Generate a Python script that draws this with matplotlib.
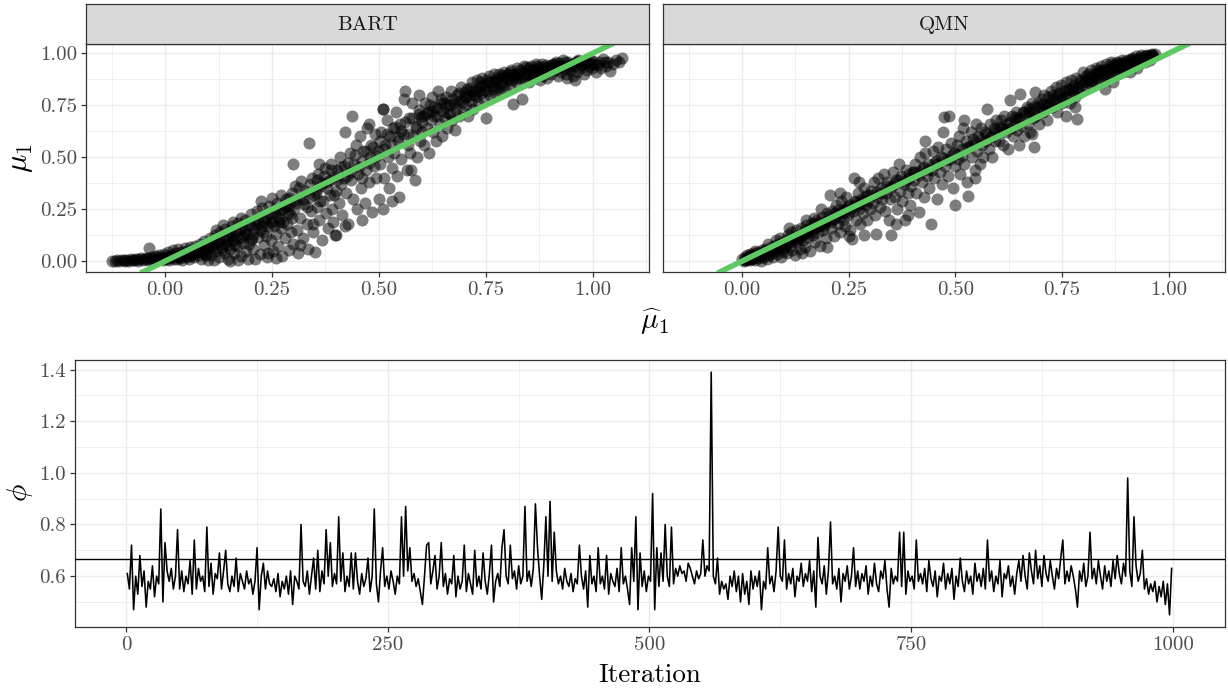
import matplotlib
matplotlib.use("Agg")
import matplotlib.pyplot as plt
import numpy as np

plt.rcParams['font.family'] = 'cmr10'
plt.rcParams['mathtext.fontset'] = 'cm'
plt.rcParams['axes.formatter.use_mathtext'] = True

# ---------------- data ----------------
panels = ["BART", "QMN"]

bart_pts = [
    (-0.125,0.003),(-0.118,0.002),(-0.112,0.005),(-0.108,0.001),(-0.101,0.004),(-0.097,0.008),(-0.093,0.002),(-0.089,0.006),
    (-0.084,0.003),(-0.080,0.010),(-0.076,0.004),(-0.072,0.007),(-0.068,0.012),(-0.064,0.003),(-0.060,0.009),(-0.056,0.014),
    (-0.052,0.006),(-0.048,0.011),(-0.044,0.017),(-0.041,0.004),(-0.037,0.013),(-0.034,0.020),(-0.030,0.008),(-0.027,0.016),
    (-0.024,0.025),(-0.037,0.062),
    (-0.020,0.005),(-0.017,0.018),(-0.014,0.030),(-0.011,0.010),(-0.008,0.022),(-0.005,0.004),(-0.002,0.035),(0.001,0.015),
    (0.004,0.026),(0.007,0.045),(0.010,0.008),(0.013,0.032),(0.016,0.020),(0.019,0.052),(0.022,0.012),(0.025,0.038),
    (0.028,0.027),(0.031,0.058),(0.034,0.016),(0.037,0.044),(0.040,0.005),(0.043,0.034),(0.046,0.062),(0.049,0.022),
    (0.052,0.048),(0.055,0.010),(0.058,0.070),(0.061,0.036),(0.064,0.055),(0.067,0.018),(0.070,0.075),(0.073,0.042),
    (0.076,0.060),(0.079,0.028),(0.082,0.085),(0.085,0.012),(0.088,0.050),(0.091,0.095),(0.094,0.035),(0.097,0.068),
    (0.100,0.004),
    (0.102,0.060),(0.105,0.110),(0.108,0.030),(0.111,0.082),(0.114,0.005),(0.117,0.125),(0.120,0.050),(0.123,0.095),
    (0.126,0.018),(0.129,0.140),(0.132,0.068),(0.135,0.108),(0.138,0.038),(0.141,0.155),(0.144,0.080),(0.147,0.012),
    (0.150,0.122),(0.153,0.060),(0.156,0.170),(0.159,0.095),(0.162,0.040),(0.165,0.140),(0.168,0.075),(0.171,0.185),
    (0.174,0.110),(0.177,0.025),(0.180,0.158),(0.183,0.088),(0.186,0.200),(0.189,0.050),(0.192,0.130),(0.195,0.012),
    (0.198,0.175),(0.200,0.100),(0.178,0.210),(0.160,0.190),(0.118,0.150),(0.135,0.172),(0.152,0.000),(0.170,0.005),
    (0.202,0.225),(0.205,0.060),(0.208,0.160),(0.211,0.010),(0.214,0.240),(0.217,0.115),(0.220,0.185),(0.223,0.035),
    (0.226,0.255),(0.229,0.140),(0.232,0.080),(0.235,0.210),(0.238,0.020),(0.241,0.170),(0.244,0.265),(0.247,0.100),
    (0.250,0.195),(0.253,0.050),(0.256,0.235),(0.259,0.130),(0.262,0.280),(0.265,0.075),(0.268,0.205),(0.271,0.160),
    (0.274,0.025),(0.277,0.250),(0.280,0.110),(0.283,0.300),(0.286,0.180),(0.289,0.055),(0.292,0.225),(0.295,0.140),
    (0.298,0.330),(0.300,0.085),(0.250,0.305),(0.270,0.320),(0.225,0.290),(0.260,0.015),(0.240,0.040),(0.290,0.270),
    (0.302,0.250),(0.305,0.360),(0.308,0.150),(0.311,0.040),(0.313,0.300),(0.316,0.210),(0.319,0.385),(0.322,0.110),
    (0.325,0.275),(0.328,0.340),(0.331,0.180),(0.334,0.060),(0.336,0.567),(0.338,0.310),(0.341,0.240),(0.344,0.400),
    (0.347,0.140),(0.350,0.045),(0.352,0.330),(0.355,0.260),(0.358,0.420),(0.361,0.200),(0.364,0.360),(0.367,0.100),
    (0.370,0.290),(0.373,0.450),(0.376,0.230),(0.379,0.380),(0.382,0.160),(0.385,0.320),(0.388,0.470),(0.391,0.250),
    (0.394,0.410),(0.397,0.125),(0.400,0.340),(0.300,0.470),(0.315,0.080),(0.345,0.180),(0.392,0.190),(0.360,0.470),
    (0.403,0.440),(0.406,0.280),(0.409,0.500),(0.412,0.370),(0.415,0.220),(0.418,0.460),(0.420,0.620),(0.423,0.330),
    (0.426,0.410),(0.429,0.180),(0.432,0.520),(0.435,0.390),(0.437,0.700),(0.440,0.300),(0.443,0.470),(0.446,0.560),
    (0.449,0.250),(0.452,0.420),(0.455,0.600),(0.458,0.350),(0.461,0.480),(0.464,0.530),(0.467,0.280),(0.470,0.440),
    (0.473,0.640),(0.476,0.380),(0.479,0.500),(0.482,0.560),(0.485,0.237),(0.488,0.460),(0.491,0.610),(0.494,0.400),
    (0.497,0.530),(0.500,0.300),(0.420,0.170),(0.400,0.125),(0.460,0.200),(0.478,0.660),(0.510,0.730),
    (0.503,0.470),(0.506,0.620),(0.509,0.730),(0.512,0.400),(0.515,0.560),(0.518,0.680),(0.521,0.500),(0.524,0.350),
    (0.527,0.600),(0.530,0.450),(0.533,0.640),(0.536,0.520),(0.539,0.720),(0.542,0.410),(0.545,0.580),(0.547,0.310),
    (0.550,0.660),(0.553,0.490),(0.556,0.610),(0.559,0.780),(0.562,0.820),(0.565,0.440),(0.568,0.560),(0.571,0.690),
    (0.574,0.520),(0.577,0.760),(0.580,0.600),(0.584,0.390),(0.587,0.650),(0.590,0.500),(0.593,0.710),(0.596,0.580),
    (0.600,0.620),(0.510,0.250),(0.530,0.290),(0.575,0.440),(0.595,0.800),
    (0.603,0.700),(0.606,0.560),(0.609,0.760),(0.612,0.640),(0.615,0.720),(0.618,0.520),(0.621,0.680),(0.624,0.790),
    (0.627,0.620),(0.630,0.740),(0.633,0.580),(0.636,0.700),(0.639,0.820),(0.642,0.660),(0.645,0.760),(0.648,0.600),
    (0.651,0.720),(0.654,0.690),(0.657,0.790),(0.660,0.640),(0.663,0.750),(0.666,0.710),(0.669,0.820),(0.672,0.680),
    (0.675,0.760),(0.678,0.630),(0.681,0.730),(0.684,0.800),(0.687,0.700),(0.690,0.770),(0.693,0.840),(0.696,0.720),
    (0.700,0.790),
    (0.703,0.750),(0.706,0.830),(0.709,0.700),(0.712,0.800),(0.715,0.770),(0.718,0.860),(0.721,0.730),(0.724,0.820),
    (0.727,0.790),(0.730,0.870),(0.733,0.760),(0.736,0.840),(0.739,0.810),(0.742,0.880),(0.745,0.780),(0.748,0.850),
    (0.751,0.687),(0.754,0.820),(0.757,0.890),(0.760,0.800),(0.763,0.860),(0.766,0.830),(0.769,0.900),(0.772,0.810),
    (0.775,0.870),(0.778,0.840),(0.781,0.900),(0.784,0.820),(0.787,0.880),(0.790,0.850),(0.793,0.910),(0.796,0.830),
    (0.800,0.880),
    (0.803,0.900),(0.806,0.850),(0.809,0.920),(0.812,0.870),(0.815,0.758),(0.818,0.900),(0.821,0.860),(0.824,0.930),
    (0.827,0.880),(0.830,0.910),(0.834,0.780),(0.837,0.890),(0.840,0.940),(0.843,0.870),(0.846,0.920),(0.849,0.900),
    (0.852,0.860),(0.855,0.940),(0.858,0.890),(0.861,0.920),(0.864,0.880),(0.867,0.950),(0.870,0.900),(0.873,0.930),
    (0.876,0.870),(0.879,0.910),(0.882,0.950),(0.885,0.890),(0.888,0.930),(0.891,0.910),(0.894,0.880),(0.897,0.940),
    (0.900,0.920),
    (0.903,0.900),(0.907,0.950),(0.911,0.920),(0.915,0.960),(0.919,0.890),(0.923,0.940),(0.927,0.910),(0.931,0.970),
    (0.935,0.930),(0.939,0.900),(0.943,0.960),(0.947,0.920),(0.951,0.950),(0.955,0.890),(0.959,0.940),(0.963,0.910),
    (0.967,0.970),(0.971,0.930),(0.975,0.950),(0.979,0.900),(0.983,0.960),(0.987,0.920),(0.991,0.940),(0.995,0.970),
    (0.999,0.930),(1.004,0.950),(1.009,0.910),(1.014,0.960),(1.019,0.930),(1.025,0.975),(1.031,0.940),(1.036,0.960),
    (1.041,0.915),(1.047,0.950),(1.055,0.970),(1.062,0.960),(1.068,0.979),(0.960,0.870),(0.940,0.880),
    # dense core
    (0.013,0.021),(0.027,0.009),(0.041,0.030),(0.056,0.025),(0.068,0.041),(0.083,0.052),(0.096,0.031),(0.109,0.072),
    (0.121,0.088),(0.133,0.055),(0.146,0.101),(0.157,0.128),(0.164,0.078),(0.179,0.118),(0.187,0.145),(0.196,0.081),
    (0.206,0.132),(0.213,0.178),(0.222,0.148),(0.231,0.195),(0.237,0.121),(0.246,0.228),(0.254,0.168),(0.263,0.215),
    (0.269,0.247),(0.276,0.189),(0.284,0.262),(0.291,0.305),(0.297,0.208),(0.306,0.282),(0.314,0.352),(0.323,0.298),
    (0.331,0.262),(0.339,0.371),(0.348,0.318),(0.356,0.392),(0.362,0.289),(0.371,0.412),(0.379,0.352),(0.387,0.437),
    (0.394,0.318),(0.402,0.392),(0.411,0.452),(0.419,0.398),(0.427,0.472),(0.436,0.428),(0.444,0.512),(0.453,0.455),
    (0.461,0.398),(0.469,0.532),(0.477,0.472),(0.486,0.548),(0.493,0.508),(0.502,0.578),(0.511,0.538),(0.519,0.612),
    (0.528,0.562),(0.537,0.648),(0.544,0.598),(0.552,0.628),(0.561,0.672),(0.569,0.612),(0.578,0.688),(0.586,0.642),
    (0.594,0.728),(0.602,0.668),(0.611,0.708),(0.619,0.752),(0.628,0.698),(0.637,0.738),(0.646,0.778),(0.655,0.742),
    (0.662,0.712),(0.671,0.778),(0.679,0.752),(0.688,0.808),(0.697,0.768),(0.705,0.792),(0.714,0.832),(0.723,0.802),
    (0.731,0.818),(0.741,0.848),(0.749,0.822),(0.758,0.862),(0.767,0.848),(0.776,0.882),(0.785,0.858),(0.794,0.892),
    (0.802,0.872),(0.811,0.898),(0.822,0.882),(0.831,0.918),(0.842,0.902),(0.851,0.928),(0.862,0.908),(0.871,0.938),
    (0.881,0.918),(0.892,0.942),(0.902,0.928),(0.913,0.948),(0.924,0.932),(0.936,0.958),(0.948,0.938),(0.961,0.958),
    (0.973,0.942),(0.986,0.962),(0.997,0.948),(1.012,0.945),(1.028,0.958),
    (0.005,0.012),(0.018,0.030),(0.033,0.018),(0.047,0.040),(0.062,0.028),(0.075,0.052),(0.089,0.040),(0.101,0.078),
    (0.113,0.062),(0.127,0.102),(0.139,0.085),(0.151,0.142),(0.161,0.108),(0.172,0.155),(0.184,0.128),(0.193,0.172),
    (0.203,0.112),(0.216,0.205),(0.227,0.168),(0.239,0.222),(0.248,0.185),(0.258,0.252),(0.266,0.190),(0.279,0.272),
    (0.288,0.232),(0.299,0.292),(0.352,0.342),(0.368,0.378),(0.386,0.392),(0.598,0.695),(0.625,0.725),(0.652,0.762),
    (0.702,0.812),(0.718,0.818),(0.737,0.862),(0.752,0.872),(0.771,0.862),(0.789,0.898),(0.808,0.912),(0.826,0.898),
    (0.845,0.932),(0.866,0.922),(0.884,0.935),(0.905,0.942),(0.921,0.952),(0.944,0.945),(0.966,0.962),(0.982,0.952),
    (1.002,0.962),
]

qmn_pts = [
    (0.000,0.010),(0.004,0.002),(0.007,0.020),(0.010,0.006),(0.013,0.028),(0.016,0.012),(0.019,0.004),(0.022,0.030),
    (0.025,0.016),(0.028,0.040),(0.031,0.008),(0.034,0.025),(0.037,0.045),(0.040,0.015),(0.043,0.035),(0.046,0.055),
    (0.049,0.020),(0.052,0.042),(0.055,0.060),(0.058,0.010),(0.061,0.050),(0.064,0.030),(0.067,0.068),(0.070,0.040),
    (0.073,0.020),(0.076,0.075),(0.079,0.055),(0.082,0.035),(0.085,0.085),(0.088,0.062),(0.091,0.018),(0.094,0.090),
    (0.097,0.045),(0.100,0.070),(0.030,0.050),(0.060,0.085),(0.080,0.100),(0.045,0.002),(0.090,0.110),(0.020,0.035),
    (0.103,0.100),(0.106,0.040),(0.109,0.125),(0.112,0.075),(0.115,0.140),(0.118,0.055),(0.121,0.110),(0.124,0.030),
    (0.127,0.150),(0.130,0.090),(0.133,0.120),(0.136,0.060),(0.139,0.160),(0.142,0.100),(0.145,0.135),(0.148,0.070),
    (0.151,0.175),(0.154,0.115),(0.157,0.145),(0.160,0.050),(0.163,0.185),(0.166,0.125),(0.169,0.160),(0.172,0.090),
    (0.175,0.200),(0.178,0.140),(0.181,0.170),(0.184,0.075),(0.187,0.215),(0.190,0.150),(0.193,0.185),(0.196,0.110),
    (0.200,0.230),(0.110,0.160),(0.140,0.040),(0.170,0.210),(0.185,0.250),(0.200,0.069),(0.150,0.200),
    (0.203,0.200),(0.206,0.317),(0.209,0.160),(0.212,0.240),(0.215,0.120),(0.218,0.210),(0.221,0.270),(0.224,0.180),
    (0.227,0.230),(0.230,0.140),(0.233,0.290),(0.236,0.200),(0.239,0.250),(0.242,0.170),(0.245,0.310),(0.248,0.220),
    (0.251,0.270),(0.254,0.150),(0.258,0.109),(0.261,0.240),(0.262,0.400),(0.265,0.290),(0.268,0.200),(0.271,0.330),
    (0.274,0.250),(0.277,0.180),(0.280,0.300),(0.283,0.230),(0.286,0.350),(0.287,0.128),(0.290,0.270),(0.293,0.200),
    (0.296,0.320),(0.300,0.250),(0.275,0.380),(0.230,0.330),(0.250,0.120),
    (0.303,0.340),(0.306,0.280),(0.309,0.380),(0.312,0.220),(0.314,0.133),(0.317,0.310),(0.320,0.400),(0.323,0.260),
    (0.326,0.350),(0.329,0.300),(0.332,0.420),(0.335,0.240),(0.338,0.330),(0.341,0.380),(0.344,0.200),(0.347,0.300),
    (0.349,0.125),(0.352,0.360),(0.355,0.430),(0.358,0.310),(0.361,0.390),(0.364,0.250),(0.367,0.470),(0.370,0.340),
    (0.373,0.410),(0.376,0.290),(0.379,0.370),(0.382,0.200),(0.385,0.440),(0.388,0.330),(0.391,0.400),(0.394,0.270),
    (0.397,0.360),(0.400,0.430),(0.360,0.180),(0.390,0.220),
    (0.403,0.390),(0.406,0.470),(0.409,0.330),(0.412,0.430),(0.415,0.236),(0.418,0.500),(0.421,0.380),(0.424,0.450),
    (0.427,0.310),(0.430,0.520),(0.433,0.410),(0.436,0.470),(0.439,0.350),(0.442,0.178),(0.445,0.440),(0.448,0.530),
    (0.451,0.400),(0.454,0.480),(0.457,0.300),(0.460,0.550),(0.463,0.430),(0.466,0.500),(0.469,0.370),(0.473,0.694),
    (0.476,0.460),(0.479,0.540),(0.482,0.410),(0.485,0.700),(0.488,0.490),(0.491,0.570),(0.494,0.350),(0.497,0.520),
    (0.499,0.269),(0.500,0.460),(0.470,0.620),(0.430,0.580),
    (0.503,0.560),(0.506,0.490),(0.509,0.600),(0.512,0.420),(0.515,0.540),(0.518,0.640),(0.521,0.470),(0.524,0.580),
    (0.527,0.380),(0.530,0.312),(0.533,0.550),(0.536,0.620),(0.539,0.500),(0.542,0.590),(0.545,0.440),(0.548,0.660),
    (0.551,0.530),(0.554,0.600),(0.557,0.470),(0.560,0.640),(0.563,0.560),(0.566,0.500),(0.569,0.620),(0.572,0.580),
    (0.575,0.734),(0.578,0.540),(0.581,0.660),(0.584,0.600),(0.587,0.500),(0.590,0.640),(0.593,0.580),(0.596,0.680),
    (0.600,0.620),(0.545,0.400),(0.520,0.680),
    (0.603,0.580),(0.606,0.680),(0.609,0.640),(0.612,0.560),(0.615,0.700),(0.618,0.620),(0.621,0.660),(0.624,0.540),
    (0.627,0.777),(0.630,0.640),(0.633,0.700),(0.636,0.600),(0.639,0.680),(0.642,0.720),(0.645,0.630),(0.648,0.690),
    (0.652,0.803),(0.655,0.650),(0.658,0.720),(0.661,0.600),(0.664,0.700),(0.667,0.740),(0.670,0.660),(0.673,0.720),
    (0.676,0.620),(0.679,0.760),(0.682,0.690),(0.685,0.740),(0.687,0.814),(0.690,0.700),(0.693,0.760),(0.696,0.660),
    (0.700,0.730),(0.650,0.560),(0.680,0.610),(0.684,0.550),
    (0.703,0.780),(0.706,0.720),(0.709,0.800),(0.712,0.740),(0.715,0.680),(0.718,0.790),(0.721,0.760),(0.724,0.820),
    (0.727,0.740),(0.730,0.800),(0.733,0.770),(0.736,0.840),(0.739,0.720),(0.742,0.810),(0.745,0.780),(0.748,0.850),
    (0.751,0.760),(0.754,0.820),(0.757,0.790),(0.760,0.860),(0.763,0.800),(0.766,0.830),(0.769,0.760),(0.772,0.870),
    (0.775,0.820),(0.778,0.850),(0.781,0.790),(0.784,0.880),(0.787,0.840),(0.790,0.810),(0.793,0.870),(0.796,0.850),
    (0.800,0.910),(0.760,0.700),(0.780,0.740),(0.785,0.686),
    (0.803,0.860),(0.806,0.890),(0.809,0.840),(0.812,0.900),(0.815,0.870),(0.818,0.920),(0.821,0.850),(0.824,0.900),
    (0.827,0.880),(0.830,0.930),(0.833,0.860),(0.836,0.910),(0.839,0.890),(0.842,0.940),(0.845,0.870),(0.848,0.920),
    (0.851,0.900),(0.854,0.950),(0.857,0.880),(0.860,0.930),(0.863,0.910),(0.866,0.960),(0.869,0.890),(0.872,0.940),
    (0.875,0.920),(0.878,0.960),(0.881,0.900),(0.884,0.950),(0.887,0.930),(0.890,0.970),(0.893,0.910),(0.896,0.950),
    (0.900,0.940),(0.850,0.830),(0.870,0.860),
    (0.903,0.960),(0.906,0.930),(0.909,0.970),(0.912,0.945),(0.915,0.980),(0.918,0.940),(0.921,0.965),(0.924,0.985),
    (0.927,0.950),(0.930,0.975),(0.933,0.955),(0.936,0.990),(0.939,0.965),(0.942,0.980),(0.945,0.960),(0.948,0.992),
    (0.951,0.975),(0.954,0.985),(0.957,0.970),(0.960,0.995),(0.963,0.985),(0.967,0.998),(0.910,0.910),(0.925,0.930),
    # dense core
    (0.011,0.015),(0.024,0.012),(0.036,0.028),(0.048,0.038),(0.059,0.032),(0.071,0.058),(0.084,0.066),(0.095,0.058),
    (0.107,0.088),(0.118,0.098),(0.129,0.105),(0.141,0.128),(0.152,0.138),(0.163,0.142),(0.174,0.165),(0.186,0.172),
    (0.197,0.195),(0.208,0.188),(0.219,0.232),(0.229,0.215),(0.241,0.248),(0.252,0.238),(0.263,0.272),(0.273,0.268),
    (0.284,0.295),(0.295,0.288),(0.305,0.318),(0.316,0.335),(0.327,0.328),(0.337,0.362),(0.348,0.352),(0.359,0.378),
    (0.369,0.392),(0.381,0.388),(0.392,0.418),(0.403,0.428),(0.414,0.415),(0.426,0.452),(0.437,0.438),(0.449,0.472),
    (0.458,0.468),(0.471,0.498),(0.481,0.488),(0.492,0.512),(0.504,0.518),(0.516,0.508),(0.527,0.548),(0.538,0.558),
    (0.549,0.572),(0.561,0.588),(0.572,0.612),(0.583,0.598),(0.594,0.632),(0.605,0.648),(0.617,0.638),(0.628,0.672),
    (0.639,0.692),(0.651,0.682),(0.662,0.718),(0.673,0.732),(0.684,0.712),(0.695,0.748),(0.706,0.758),(0.717,0.752),
    (0.728,0.782),(0.739,0.798),(0.751,0.792),(0.762,0.822),(0.773,0.835),(0.784,0.828),(0.795,0.862),(0.806,0.872),
    (0.817,0.868),(0.828,0.898),(0.839,0.908),(0.849,0.902),(0.861,0.925),(0.872,0.938),(0.883,0.932),(0.894,0.958),
    (0.905,0.948),(0.916,0.962),(0.928,0.972),(0.939,0.978),(0.951,0.988),(0.962,0.992),
    (0.006,0.008),(0.017,0.022),(0.029,0.022),(0.041,0.026),(0.053,0.048),(0.066,0.045),(0.078,0.068),(0.089,0.078),
    (0.101,0.082),(0.113,0.108),(0.124,0.118),(0.135,0.112),(0.147,0.148),(0.158,0.155),(0.169,0.178),(0.181,0.188),
    (0.192,0.168),(0.204,0.218),(0.214,0.205),(0.225,0.248),(0.236,0.232),(0.247,0.262),(0.258,0.255),(0.268,0.285),
    (0.279,0.278),(0.291,0.312),(0.811,0.888),(0.823,0.882),(0.834,0.918),(0.846,0.922),(0.857,0.918),(0.868,0.948),
    (0.879,0.952),(0.891,0.945),(0.902,0.968),(0.913,0.972),(0.922,0.958),(0.933,0.982),(0.944,0.988),(0.956,0.992),
    (0.898,0.928),
]

# phi trace, every second iteration (1, 3, ..., 999)
phi = [
    0.61,0.55,0.72,0.47,0.60,0.53,0.68,0.56,0.62,0.48,0.58,0.55,0.64,0.52,0.60,0.57,0.86,0.50,0.73,0.62,0.58,0.63,0.55,0.60,0.78,
    0.55,0.62,0.54,0.60,0.57,0.66,0.53,0.74,0.55,0.63,0.58,0.60,0.54,0.79,0.56,0.65,0.53,0.61,0.59,0.69,0.55,0.62,0.70,0.57,0.54,
    0.60,0.56,0.67,0.54,0.61,0.58,0.55,0.62,0.57,0.59,0.53,0.58,0.71,0.47,0.60,0.65,0.55,0.62,0.57,0.56,0.59,0.54,0.61,0.52,0.58,
    0.55,0.60,0.53,0.62,0.49,0.60,0.58,0.55,0.80,0.58,0.56,0.62,0.53,0.60,0.67,0.55,0.70,0.54,0.62,0.57,0.78,0.60,0.73,0.56,0.61,
    0.57,0.83,0.58,0.69,0.54,0.60,0.56,0.69,0.55,0.69,0.58,0.53,0.61,0.56,0.59,0.67,0.54,0.60,0.86,0.57,0.50,0.62,0.71,0.56,0.60,
    0.55,0.62,0.58,0.53,0.60,0.57,0.83,0.60,0.87,0.62,0.71,0.58,0.61,0.56,0.59,0.54,0.49,0.60,0.72,0.73,0.57,0.62,0.68,0.55,0.60,
    0.73,0.56,0.61,0.53,0.59,0.57,0.68,0.52,0.60,0.55,0.58,0.72,0.54,0.61,0.57,0.53,0.70,0.56,0.60,0.55,0.69,0.58,0.53,0.61,0.72,
    0.50,0.58,0.61,0.56,0.71,0.78,0.60,0.57,0.72,0.59,0.62,0.55,0.64,0.57,0.60,0.87,0.58,0.62,0.56,0.63,0.88,0.71,0.60,0.51,0.64,
    0.83,0.60,0.89,0.58,0.77,0.62,0.57,0.60,0.55,0.63,0.58,0.56,0.61,0.54,0.59,0.57,0.72,0.60,0.55,0.62,0.48,0.68,0.57,0.60,0.54,
    0.71,0.57,0.60,0.55,0.68,0.53,0.61,0.58,0.56,0.63,0.54,0.71,0.57,0.60,0.55,0.49,0.71,0.58,0.83,0.47,0.69,0.56,0.62,0.54,0.60,
    0.58,0.92,0.47,0.71,0.56,0.69,0.58,0.80,0.60,0.56,0.79,0.57,0.63,0.60,0.64,0.61,0.62,0.58,0.65,0.63,0.60,0.57,0.62,0.59,0.61,
    0.74,0.60,0.64,0.62,1.39,0.60,0.57,0.67,0.53,0.58,0.55,0.57,0.51,0.60,0.56,0.62,0.54,0.60,0.50,0.61,0.53,0.58,0.49,0.62,0.55,
    0.60,0.56,0.62,0.47,0.58,0.55,0.71,0.57,0.60,0.54,0.62,0.79,0.60,0.58,0.74,0.55,0.61,0.57,0.63,0.52,0.60,0.58,0.65,0.56,0.61,
    0.58,0.66,0.54,0.62,0.48,0.75,0.60,0.57,0.64,0.53,0.62,0.81,0.57,0.60,0.55,0.63,0.50,0.61,0.58,0.64,0.55,0.60,0.71,0.56,0.62,
    0.55,0.61,0.58,0.64,0.53,0.60,0.56,0.65,0.57,0.54,0.62,0.59,0.66,0.55,0.48,0.63,0.57,0.60,0.58,0.77,0.56,0.77,0.53,0.62,0.58,
    0.60,0.55,0.74,0.58,0.61,0.57,0.63,0.54,0.66,0.59,0.56,0.62,0.52,0.60,0.58,0.65,0.55,0.61,0.57,0.63,0.51,0.60,0.56,0.67,0.58,
    0.54,0.62,0.57,0.60,0.53,0.65,0.58,0.61,0.56,0.63,0.55,0.74,0.58,0.62,0.54,0.60,0.57,0.66,0.52,0.61,0.59,0.64,0.56,0.60,0.53,
    0.61,0.66,0.58,0.68,0.60,0.55,0.69,0.62,0.57,0.70,0.59,0.64,0.56,0.68,0.61,0.58,0.66,0.60,0.55,0.63,0.59,0.67,0.74,0.57,0.62,
    0.58,0.64,0.60,0.55,0.48,0.62,0.58,0.65,0.56,0.60,0.77,0.59,0.63,0.57,0.66,0.60,0.55,0.64,0.58,0.62,0.56,0.66,0.59,0.68,0.61,
    0.57,0.65,0.60,0.98,0.62,0.56,0.83,0.64,0.58,0.61,0.70,0.55,0.59,0.53,0.57,0.54,0.58,0.50,0.56,0.52,0.58,0.49,0.57,0.45,0.63,
]
iteration = np.arange(len(phi)) * 2 + 1
phi_ref = 0.666

top_xticks = [0.0, 0.25, 0.5, 0.75, 1.0]
top_xlabels = ["0.00", "0.25", "0.50", "0.75", "1.00"]
top_yticks = [0.0, 0.25, 0.5, 0.75, 1.0]
top_ylabels = ["0.00", "0.25", "0.50", "0.75", "1.00"]
bot_xticks = [0, 250, 500, 750, 1000]
bot_xlabels = ["0", "250", "500", "750", "1000"]
bot_yticks = [0.6, 0.8, 1.0, 1.2, 1.4]
bot_ylabels = ["0.6", "0.8", "1.0", "1.2", "1.4"]

# ---------------- figure ----------------
W, H = 1228, 688
fig = plt.figure(figsize=(W / 100, H / 100), dpi=100)

def rect(x0, y0, x1, y1):
    return [x0 / W, 1 - y1 / H, (x1 - x0) / W, (y1 - y0) / H]

GRID = '#EBEBEB'
BORDER = '#333333'
TICKC = '#4D4D4D'

def style(ax, xmaj, xminor, ymaj, yminor):
    ax.set_xticks(xmaj)
    ax.set_xticks(xminor, minor=True)
    ax.set_yticks(ymaj)
    ax.set_yticks(yminor, minor=True)
    ax.grid(which='major', color=GRID, lw=1.0)
    ax.grid(which='minor', color=GRID, lw=0.55)
    ax.set_axisbelow(True)
    for s in ax.spines.values():
        s.set_color(BORDER)
        s.set_linewidth(0.9)
    ax.tick_params(which='major', length=3.5, width=0.9, color=BORDER,
                   labelsize=15, labelcolor=TICKC, pad=3)
    ax.tick_params(which='minor', length=0)

top_rects = [rect(86, 44, 649, 272), rect(663, 44, 1225, 272)]
strip_rects = [rect(86, 4, 649, 44), rect(663, 4, 1225, 44)]
datasets = [bart_pts, qmn_pts]

for k, name in enumerate(panels):
    ax = fig.add_axes(top_rects[k])
    pts = np.array(datasets[k])
    ax.scatter(pts[:, 0], pts[:, 1], s=75, c='black', alpha=0.5, linewidths=0, zorder=2)
    ax.axline((0, 0), slope=1, color='#5EC962', lw=4.0, zorder=3)
    ax.set_xlim(-0.185, 1.132)
    ax.set_ylim(-0.052, 1.045)
    style(ax, top_xticks, [-0.125, 0.125, 0.375, 0.625, 0.875, 1.125],
          top_yticks, [0.125, 0.375, 0.625, 0.875])
    ax.set_xticklabels(top_xlabels)
    if k == 0:
        ax.set_yticklabels(top_ylabels)
    else:
        ax.set_yticklabels([])
        ax.tick_params(axis='y', which='major', length=0)

    sax = fig.add_axes(strip_rects[k])
    sax.set_facecolor('#D9D9D9')
    sax.set_xticks([])
    sax.set_yticks([])
    for s in sax.spines.values():
        s.set_color(BORDER)
        s.set_linewidth(0.9)
    sax.text(0.5, 0.47, name, ha='center', va='center', fontsize=15,
             color='#1A1A1A', transform=sax.transAxes)

fig.text(655 / W, 1 - 322 / H, r'$\widehat{\mu}_1$', ha='center', va='center', fontsize=21)
fig.text(21 / W, 1 - 158 / H, r'$\mu_1$', ha='center', va='center', fontsize=22, rotation=90)

# bottom trace
ax = fig.add_axes(rect(75, 360, 1225, 627))
ax.plot(iteration, phi, color='black', lw=1.15, zorder=2)
ax.axhline(phi_ref, color='black', lw=1.0, zorder=3)
ax.set_xlim(-49, 1050)
ax.set_ylim(0.403, 1.437)
style(ax, bot_xticks, [125, 375, 625, 875], bot_yticks, [0.5, 0.7, 0.9, 1.1, 1.3])
ax.set_xticklabels(bot_xlabels)
ax.set_yticklabels(bot_ylabels)

fig.text(650 / W, 1 - 675 / H, 'Iteration', ha='center', va='center', fontsize=19.5)
fig.text(20 / W, 1 - 493 / H, r'$\phi$', ha='center', va='center', fontsize=21, rotation=90)

fig.savefig('out.png', dpi=100)
